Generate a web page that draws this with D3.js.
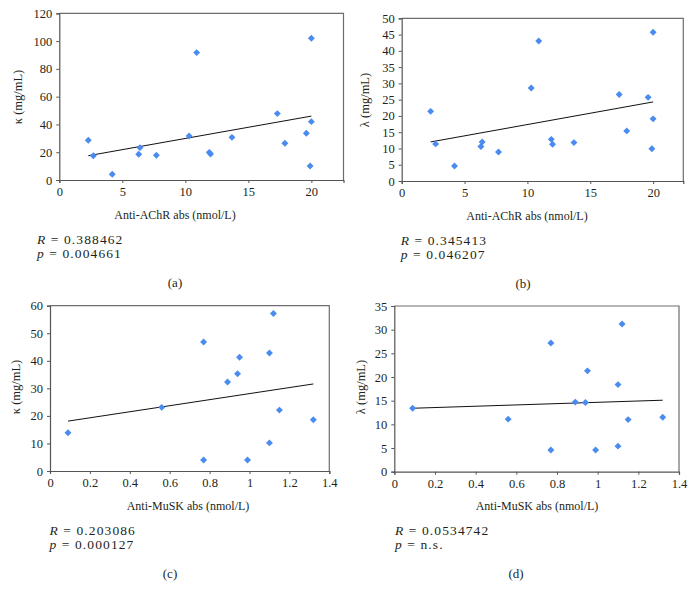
<!DOCTYPE html>
<html>
<head>
<meta charset="utf-8">
<script src="https://cdn.jsdelivr.net/npm/d3@7"></script>
<style>
  html, body { margin: 0; padding: 0; background: #fff; }
  svg { display: block; }
  text { font-family: "Liberation Serif", "Times New Roman", Times, serif; fill: #231f20; }
</style>
</head>
<body>
<svg id="chart" width="694" height="599"></svg>
<script>
// ---------- DATA ----------
const achrAbs   = [2.3, 2.7, 4.2, 6.3, 6.4, 7.7, 10.3, 10.9, 11.9, 12.0, 13.7, 17.3, 17.9, 19.6, 19.9, 20.0, 20.0];
const kappaAchr = [28.6, 17.5, 4.1, 18.5, 23.3, 17.8, 31.7, 91.7, 19.9, 18.7, 30.7, 47.8, 26.4, 33.6, 10.1, 102.0, 42.0];
const lambdaAchr = [21.4, 11.4, 4.6, 10.6, 12.0, 8.9, 28.6, 43.0, 12.8, 11.3, 11.8, 26.6, 15.4, 25.7, 9.9, 45.7, 19.1];

const muskAbs    = [0.09, 0.56, 0.77, 0.77, 0.89, 0.94, 0.95, 0.99, 1.10, 1.10, 1.12, 1.15, 1.32];
const kappaMusk  = [13.9, 23.1, 46.8, 4.0, 32.3, 35.3, 41.3, 4.0, 42.8, 10.2, 57.2, 22.1, 18.6];
const lambdaMusk = [13.4, 11.1, 27.2, 4.6, 14.7, 14.6, 21.3, 4.6, 18.4, 5.4, 31.2, 11.0, 11.5];

// trend lines: [x0, y0, x1, y1]
const trendA = [2.3, 17.5, 20.0, 46.0];
const trendB = [2.3, 12.0, 20.0, 24.3];
const trendC = [0.09, 18.1, 1.32, 31.6];
const trendD = [0.09, 13.4, 1.32, 15.1];

const achrTicks = [0, 5, 10, 15, 20];
const muskTicks = [0, 0.2, 0.4, 0.6, 0.8, 1, 1.2, 1.4];
const kappaAchrTicks = [0, 20, 40, 60, 80, 100, 120];
const lambdaAchrTicks = [0, 5, 10, 15, 20, 25, 30, 35, 40, 45, 50];
const kappaMuskTicks = [0, 10, 20, 30, 40, 50, 60];
const lambdaMuskTicks = [0, 5, 10, 15, 20, 25, 30, 35];

const xTitles = ["Anti-AChR abs (nmol/L)", "Anti-AChR abs (nmol/L)", "Anti-MuSK abs (nmol/L)", "Anti-MuSK abs (nmol/L)"];
const yTitles = ["κ (mg/mL)", "λ (mg/mL)", "κ (mg/mL)", "λ (mg/mL)"];
const rValues = ["0.388462", "0.345413", "0.203086", "0.0534742"];
const pValues = ["0.004661", "0.046207", "0.000127", "n.s."];
const panelLabels = ["(a)", "(b)", "(c)", "(d)"];

// ---------- LAYOUT ----------
const panels = [
  { x: achrAbs, y: kappaAchr, trend: trendA, xTicks: achrTicks, yTicks: kappaAchrTicks,
    xMax: 22.55, yMax: 120, L: 59.3, R: 343.5, T: 13.3, B: 180,
    xtX: 175, ytX: 18, ytY: 97, rX: 37, labX: 175 },
  { x: achrAbs, y: lambdaAchr, trend: trendB, xTicks: achrTicks, yTicks: lambdaAchrTicks,
    xMax: 22.4, yMax: 50, L: 401.7, R: 683.3, T: 18.3, B: 181,
    xtX: 527, ytX: 365, ytY: 100, rX: 400.7, labX: 523 },
  { x: muskAbs, y: kappaMusk, trend: trendC, xTicks: muskTicks, yTicks: kappaMuskTicks,
    xMax: 1.4, yMax: 60, L: 50, R: 329.3, T: 305.7, B: 471,
    xtX: 188, ytX: 16, ytY: 387, rX: 49.5, labX: 170 },
  { x: muskAbs, y: lambdaMusk, trend: trendD, xTicks: muskTicks, yTicks: lambdaMuskTicks,
    xMax: 1.4, yMax: 35, L: 394.3, R: 679, T: 306, B: 471.7,
    xtX: 537, ytX: 361, ytY: 387, rX: 395, labX: 516 }
];

const svg = d3.select("#chart");
const markerColor = "#4a8bef";
const fontFam = "'Liberation Serif', 'Times New Roman', Times, serif";
const fmt = d => String(+(+d).toFixed(1));

panels.forEach((p, i) => {
  const xs = d3.scaleLinear().domain([0, p.xMax]).range([p.L, p.R]);
  const ys = d3.scaleLinear().domain([0, p.yMax]).range([p.B, p.T]);
  const g = svg.append("g");

  // frame (top & right)
  g.append("path")
    .attr("d", `M${p.L},${p.T}H${p.R}V${p.B}`)
    .attr("fill", "none").attr("stroke", "#6d6d6d").attr("stroke-width", 1.2);

  const xAxis = g.append("g").attr("transform", `translate(0,${p.B})`)
    .call(d3.axisBottom(xs).tickValues(p.xTicks).tickFormat(fmt).tickSize(3).tickPadding(4));
  const yAxis = g.append("g").attr("transform", `translate(${p.L},0)`)
    .call(d3.axisLeft(ys).tickValues(p.yTicks).tickSize(3).tickPadding(4));
  [xAxis, yAxis].forEach(a => {
    a.attr("font-family", fontFam);
    a.selectAll("path").attr("stroke", "#555").attr("stroke-width", 1.2);
    a.selectAll("line").attr("stroke", "#555");
    a.selectAll("text").attr("font-size", 12.5).attr("fill", "#231f20");
  });

  // trend line
  g.append("line")
    .attr("x1", xs(p.trend[0])).attr("y1", ys(p.trend[1]))
    .attr("x2", xs(p.trend[2])).attr("y2", ys(p.trend[3]))
    .attr("stroke", "#111").attr("stroke-width", 1);

  // markers
  const sym = d3.symbol().type(d3.symbolSquare).size(24);
  g.selectAll(".pt").data(p.x.map((v, k) => [v, p.y[k]])).join("path")
    .attr("d", sym)
    .attr("transform", d => `translate(${xs(d[0])},${ys(d[1])}) rotate(45)`)
    .attr("fill", markerColor);

  // axis titles
  g.append("text").attr("x", p.xtX).attr("y", p.B + 38.5)
    .attr("text-anchor", "middle").attr("font-size", 12).text(xTitles[i]);
  g.append("text").attr("transform", `translate(${p.ytX + 4},${p.ytY}) rotate(-90)`)
    .attr("text-anchor", "middle").attr("font-size", 12.5).text(yTitles[i]);

  // R and p
  const rt = g.append("text").attr("x", p.rX).attr("y", p.B + 63.5)
    .attr("font-size", 13.5).attr("letter-spacing", 1.1);
  rt.append("tspan").attr("font-style", "italic").text("R");
  rt.append("tspan").text(" = " + rValues[i]);
  const pt = g.append("text").attr("x", p.rX).attr("y", p.B + 77.5)
    .attr("font-size", 13.5).attr("letter-spacing", 1.1);
  pt.append("tspan").attr("font-style", "italic").text("p");
  pt.append("tspan").text(" = " + pValues[i]);

  // panel label
  g.append("text").attr("x", p.labX).attr("y", p.B + 106.5)
    .attr("text-anchor", "middle").attr("font-size", 13).text(panelLabels[i]);
});
</script>
</body>
</html>
